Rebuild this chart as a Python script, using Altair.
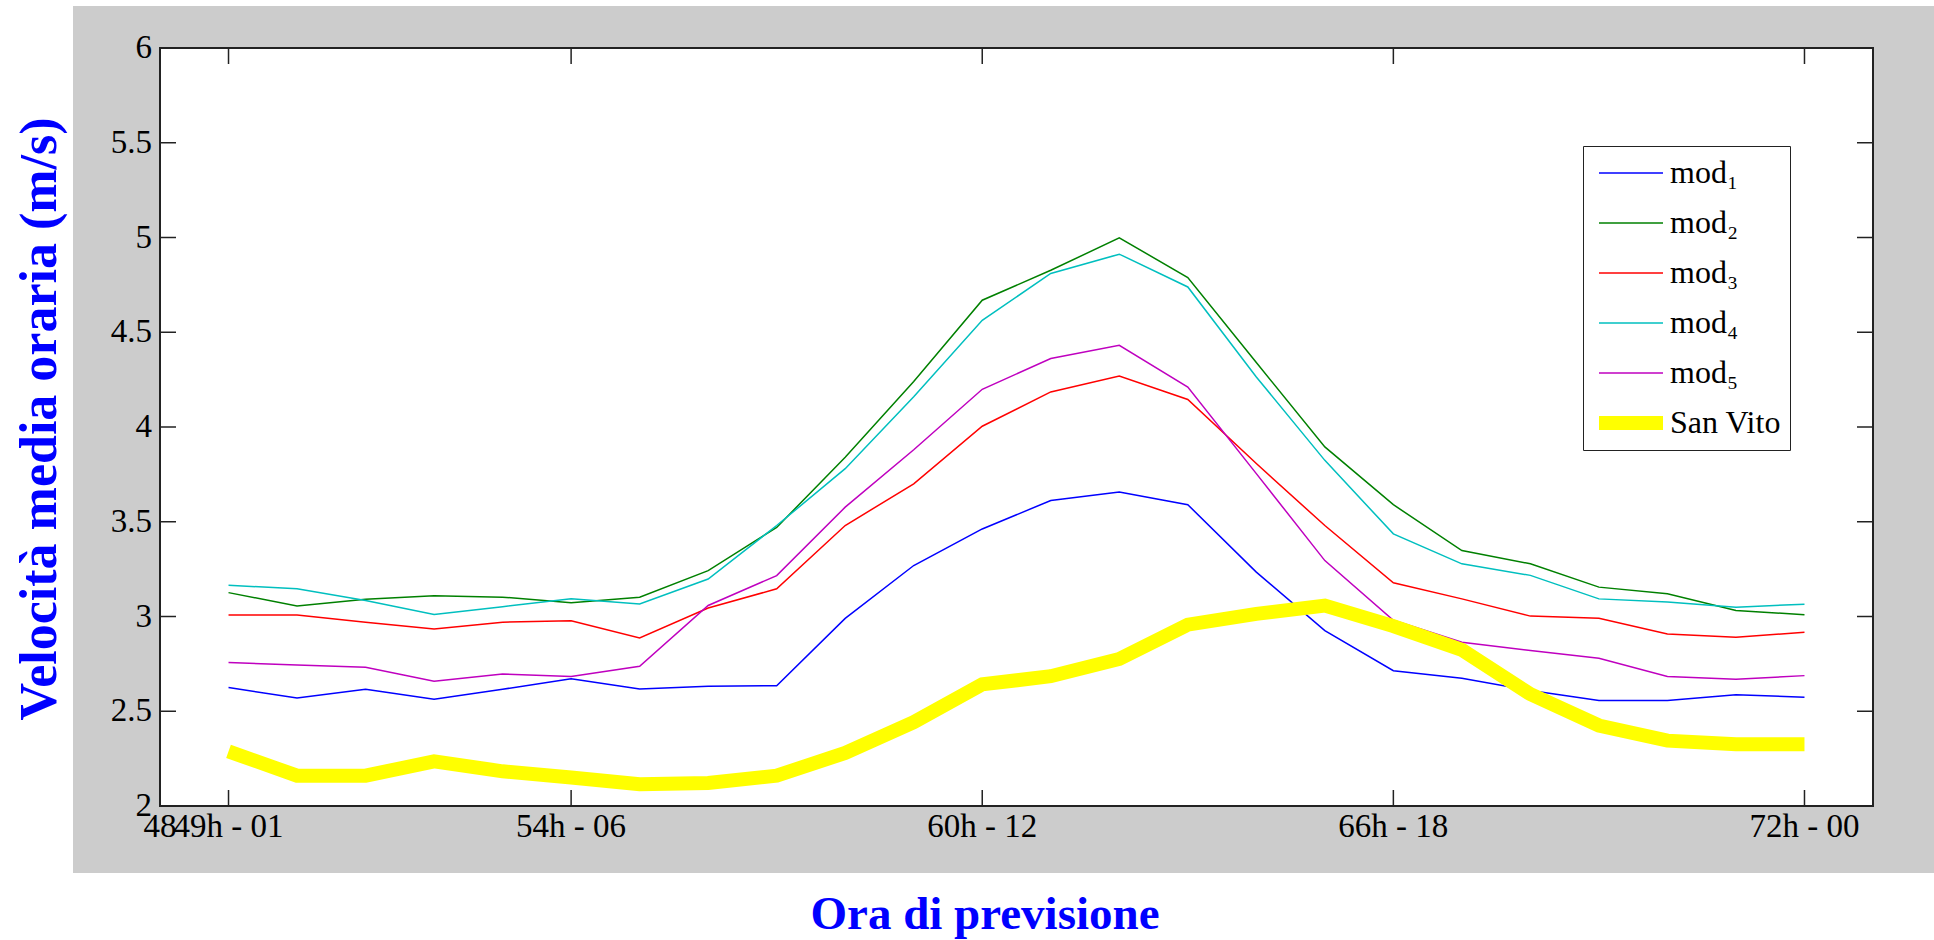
import altair as alt
import pandas as pd

# ---- data ----
hours = list(range(49, 73))
mod1 = [2.625, 2.570, 2.616, 2.563, 2.616, 2.672, 2.618, 2.632, 2.635, 2.990, 3.269, 3.462,
        3.612, 3.657, 3.590, 3.234, 2.926, 2.714, 2.674, 2.609, 2.557, 2.557, 2.587, 2.574]
mod2 = [3.126, 3.056, 3.091, 3.109, 3.102, 3.073, 3.102, 3.242, 3.470, 3.840, 4.240, 4.669,
        4.827, 4.998, 4.789, 4.340, 3.895, 3.590, 3.348, 3.278, 3.155, 3.120, 3.032, 3.009]
mod3 = [3.008, 3.008, 2.970, 2.934, 2.970, 2.978, 2.887, 3.045, 3.146, 3.480, 3.700, 4.004,
        4.185, 4.269, 4.145, 3.807, 3.480, 3.178, 3.093, 3.002, 2.991, 2.908, 2.891, 2.917]
mod4 = [3.165, 3.146, 3.084, 3.010, 3.052, 3.093, 3.066, 3.198, 3.480, 3.780, 4.160, 4.563,
        4.810, 4.912, 4.739, 4.264, 3.824, 3.436, 3.278, 3.217, 3.093, 3.076, 3.049, 3.065]
mod5 = [2.757, 2.744, 2.732, 2.658, 2.697, 2.683, 2.737, 3.058, 3.216, 3.577, 3.880, 4.199,
        4.361, 4.431, 4.211, 3.754, 3.295, 2.980, 2.864, 2.820, 2.780, 2.683, 2.669, 2.688]
san_vito = [2.288, 2.160, 2.160, 2.236, 2.183, 2.150, 2.115, 2.121, 2.160, 2.280, 2.442, 2.642,
            2.685, 2.776, 2.957, 3.014, 3.058, 2.949, 2.824, 2.590, 2.425, 2.345, 2.326, 2.326]

series_names = ["mod\u2081", "mod\u2082", "mod\u2083", "mod\u2084", "mod\u2085", "San Vito"]
series_values = [mod1, mod2, mod3, mod4, mod5, san_vito]
series_colors = ["#0000ff", "#008000", "#ff0000", "#00bfbf", "#bf00bf", "#ffff00"]
series_widths = [1.5, 1.5, 1.5, 1.5, 1.5, 14]

x_tick_values = [48, 49, 54, 60, 66, 72]
x_tick_labels = ["48", "49h - 01", "54h - 06", "60h - 12", "66h - 18", "72h - 00"]
y_tick_values = [2, 2.5, 3, 3.5, 4, 4.5, 5, 5.5, 6]
y_tick_labels = ["2", "2.5", "3", "3.5", "4", "4.5", "5", "5.5", "6"]
x_title = "Ora di previsione"
y_title = "Velocità media oraria (m/s)"

rows = []
for name, vals in zip(series_names, series_values):
    for h, v in zip(hours, vals):
        rows.append({"hour": h, "value": v, "series": name})
df = pd.DataFrame(rows)

# ---- layout ----
W, H = 1713, 758
PAD = {"left": 160, "top": 48, "right": 61, "bottom": 134}
CW, CH = 1934, 940
SERIF = "Liberation Serif"
TICK_LEN = 16
TICK_FONT = 33
DARK = "#222222"
GRAY = "#cccccc"

xscale = alt.Scale(domain=[48, 73], nice=False, zero=False)
yscale = alt.Scale(domain=[2, 6], nice=False, zero=False)

one = pd.DataFrame({"k": [0]})

# white margins around the grey figure area (canvas background is grey)
L0, T0 = -PAD["left"], -PAD["top"]
R0, B0 = CW - PAD["left"], CH - PAD["top"]
white_left = alt.Chart(one).mark_rect(color="white").encode(
    x=alt.value(L0), x2=alt.value(73 - PAD["left"]), y=alt.value(T0), y2=alt.value(B0))
white_top = alt.Chart(one).mark_rect(color="white").encode(
    x=alt.value(L0), x2=alt.value(R0), y=alt.value(T0), y2=alt.value(6 - PAD["top"]))
white_bottom = alt.Chart(one).mark_rect(color="white").encode(
    x=alt.value(L0), x2=alt.value(R0), y=alt.value(873 - PAD["top"]), y2=alt.value(B0))

xt = pd.DataFrame({"t": x_tick_values, "label": x_tick_labels})
yt = pd.DataFrame({"v": y_tick_values, "label": y_tick_labels})

tick_x_bottom = alt.Chart(xt).mark_rule(color=DARK, strokeWidth=1.5).encode(
    x=alt.X("t:Q", scale=xscale, axis=None), y=alt.value(H - TICK_LEN), y2=alt.value(H))
tick_x_top = alt.Chart(xt).mark_rule(color=DARK, strokeWidth=1.5).encode(
    x=alt.X("t:Q", scale=xscale, axis=None), y=alt.value(0), y2=alt.value(TICK_LEN))
tick_y_left = alt.Chart(yt).mark_rule(color=DARK, strokeWidth=1.5).encode(
    y=alt.Y("v:Q", scale=yscale, axis=None), x=alt.value(0), x2=alt.value(TICK_LEN))
tick_y_right = alt.Chart(yt).mark_rule(color=DARK, strokeWidth=1.5).encode(
    y=alt.Y("v:Q", scale=yscale, axis=None), x=alt.value(W - TICK_LEN), x2=alt.value(W))

x_labels = alt.Chart(xt).mark_text(
    font=SERIF, fontSize=TICK_FONT, color="black", align="center", baseline="alphabetic",
).encode(x=alt.X("t:Q", scale=xscale, axis=None), y=alt.value(H + 31), text="label:N")
y_labels = alt.Chart(yt).mark_text(
    font=SERIF, fontSize=TICK_FONT, color="black", align="right", baseline="middle",
).encode(y=alt.Y("v:Q", scale=yscale, axis=None), x=alt.value(-8), text="label:N")

xtitle = alt.Chart(one).mark_text(
    text=x_title, font=SERIF, fontSize=47, fontWeight="bold", color="#0000ff",
    align="center", baseline="alphabetic",
).encode(x=alt.value(825), y=alt.value(881))
ytitle = alt.Chart(one).mark_text(
    text=y_title, font=SERIF, fontSize=52, fontWeight="bold", color="#0000ff",
    align="center", baseline="alphabetic", angle=270,
).encode(x=alt.value(-104), y=alt.value(H / 2 - 8))

base = alt.Chart(df).encode(
    x=alt.X("hour:Q", scale=xscale, axis=None),
    y=alt.Y("value:Q", scale=yscale, axis=None),
    color=alt.Color(
        "series:N", scale=alt.Scale(domain=series_names, range=series_colors),
        legend=alt.Legend(title=None),
    ),
    strokeWidth=alt.StrokeWidth(
        "series:N", scale=alt.Scale(type="ordinal", domain=series_names, range=series_widths),
        legend=alt.Legend(title=None),
    ),
)
lines_mod = base.transform_filter(alt.datum.series != "San Vito").mark_line()
line_sv = base.transform_filter(alt.datum.series == "San Vito").mark_line()

chart = alt.layer(
    lines_mod, line_sv, tick_x_bottom, tick_x_top, tick_y_left, tick_y_right,
    white_left, white_top, white_bottom, x_labels, y_labels, xtitle, ytitle,
).properties(
    width=W, height=H, padding=PAD,
    autosize=alt.AutoSizeParams(type="none"),
    background=GRAY,
).configure_view(
    stroke=DARK, strokeWidth=2, fill="white"
).configure_legend(
    orient="none", legendX=1423, legendY=98,
    fillColor="white", strokeColor=DARK, padding=9,
    symbolType="stroke", symbolSize=4096, clipHeight=36, rowPadding=14,
    labelFont=SERIF, labelFontSize=32, labelColor="black", labelOffset=0,
    labelLimit=300,
)

chart.save("out.html", embed_options={"renderer": "svg", "actions": False})
